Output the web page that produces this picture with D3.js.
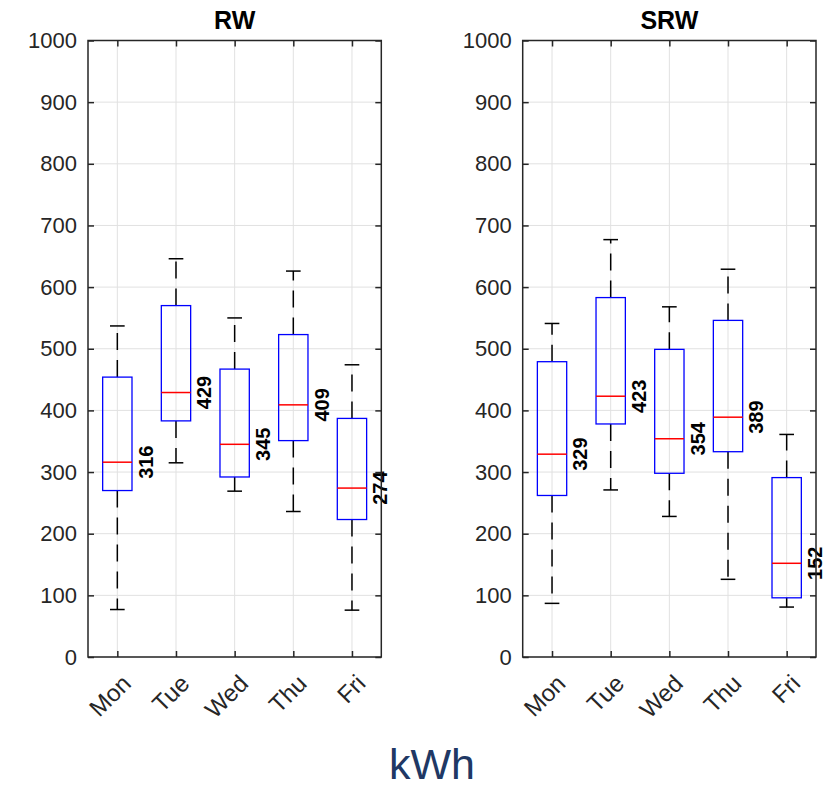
<!DOCTYPE html>
<html>
<head>
<meta charset="utf-8">
<script src="https://cdn.jsdelivr.net/npm/d3@7/dist/d3.min.js"></script>
<style>
  html, body { margin: 0; padding: 0; background: #fff; }
  svg { display: block; }
</style>
</head>
<body>
<svg id="chart" width="833" height="789"></svg>
<script>
// ---- Data ----
const days = ["Mon", "Tue", "Wed", "Thu", "Fri"];
const yTicks = [0, 100, 200, 300, 400, 500, 600, 700, 800, 900, 1000];
const panelTitles = ["RW", "SRW"];

// RW
const rwLowerWhisker = [77, 315, 269, 236, 76];
const rwQ1           = [270, 383, 292, 351, 223];
const rwMedian       = [316, 429, 345, 409, 274];
const rwQ3           = [454, 570, 467, 523, 387];
const rwUpperWhisker = [537, 646, 550, 626, 474];

// SRW
const srwLowerWhisker = [87, 271, 228, 126, 81];
const srwQ1           = [262, 378, 298, 333, 96];
const srwMedian       = [329, 423, 354, 389, 152];
const srwQ3           = [479, 583, 499, 546, 291];
const srwUpperWhisker = [541, 677, 568, 629, 361];

const unitLabel = "kWh";

// ---- Build panel tables ----
function makeRows(lo, q1, med, q3, hi) {
  return days.map((d, i) => ({ day: d, pos: i + 1, lo: lo[i], q1: q1[i], med: med[i], q3: q3[i], hi: hi[i] }));
}
const panels = [
  { title: panelTitles[0], rows: makeRows(rwLowerWhisker, rwQ1, rwMedian, rwQ3, rwUpperWhisker), left: 88 },
  { title: panelTitles[1], rows: makeRows(srwLowerWhisker, srwQ1, srwMedian, srwQ3, srwUpperWhisker), left: 522.7 }
];

const svg = d3.select("#chart");
const axisColor = "#262626";
const font = "'Liberation Sans', Arial, Helvetica, sans-serif";
const plotW = 293.3, plotTop = 40.5, plotBottom = 657;

panels.forEach(p => {
  const x = d3.scaleLinear().domain([0.5, 5.5]).range([p.left, p.left + plotW]);
  const y = d3.scaleLinear().domain([0, 1000]).range([plotBottom, plotTop]);
  const g = svg.append("g");

  // grid
  g.selectAll(".gy").data(yTicks).enter().append("line")
    .attr("x1", x(0.5)).attr("x2", x(5.5))
    .attr("y1", d => y(d)).attr("y2", d => y(d))
    .attr("stroke", "#e1e1e1").attr("stroke-width", 1);
  g.selectAll(".gx").data(p.rows).enter().append("line")
    .attr("x1", d => x(d.pos)).attr("x2", d => x(d.pos))
    .attr("y1", y(0)).attr("y2", y(1000))
    .attr("stroke", "#e1e1e1").attr("stroke-width", 1);

  // axes (ticks inside)
  const yAxisL = d3.axisLeft(y).tickValues(yTicks).tickSize(-6).tickPadding(11).tickFormat(d3.format("d"));
  const yAxisR = d3.axisRight(y).tickValues(yTicks).tickSize(-6).tickFormat("");
  const xAxisB = d3.axisBottom(x).tickValues([1,2,3,4,5]).tickSize(-6).tickFormat("");
  const xAxisT = d3.axisTop(x).tickValues([1,2,3,4,5]).tickSize(-6).tickFormat("");

  const ga = g.append("g").attr("transform", `translate(${x(0.5)},0)`).call(yAxisL);
  g.append("g").attr("transform", `translate(${x(5.5)},0)`).call(yAxisR);
  g.append("g").attr("transform", `translate(0,${y(0)})`).call(xAxisB);
  g.append("g").attr("transform", `translate(0,${y(1000)})`).call(xAxisT);
  g.selectAll(".domain").remove();
  g.selectAll(".tick line").attr("stroke", axisColor).attr("stroke-width", 1.5);
  ga.selectAll("text").attr("fill", axisColor).style("font-family", font).style("font-size", "22px");

  // x tick labels rotated
  g.selectAll(".xl").data(p.rows).enter().append("text")
    .attr("transform", d => `translate(${x(d.pos) + 15},${y(0) + 28}) rotate(-45)`)
    .attr("text-anchor", "end")
    .attr("fill", axisColor)
    .style("font-family", font).style("font-size", "24px")
    .text(d => d.day);

  // whiskers (dashed) from box edges to caps
  const wl = g.append("g").attr("stroke", "#000").attr("stroke-width", 1.5).attr("stroke-dasharray", "17,10");
  wl.selectAll(".wu").data(p.rows).enter().append("line")
    .attr("x1", d => x(d.pos)).attr("x2", d => x(d.pos))
    .attr("y1", d => y(d.q3)).attr("y2", d => y(d.hi));
  wl.selectAll(".wd").data(p.rows).enter().append("line")
    .attr("x1", d => x(d.pos)).attr("x2", d => x(d.pos))
    .attr("y1", d => y(d.q1)).attr("y2", d => y(d.lo));

  // caps
  const cap = 0.125;
  g.selectAll(".cu").data(p.rows).enter().append("line")
    .attr("x1", d => x(d.pos - cap)).attr("x2", d => x(d.pos + cap))
    .attr("y1", d => y(d.hi)).attr("y2", d => y(d.hi))
    .attr("stroke", "#000").attr("stroke-width", 1.5);
  g.selectAll(".cd").data(p.rows).enter().append("line")
    .attr("x1", d => x(d.pos - cap)).attr("x2", d => x(d.pos + cap))
    .attr("y1", d => y(d.lo)).attr("y2", d => y(d.lo))
    .attr("stroke", "#000").attr("stroke-width", 1.5);

  // boxes
  const bw = 0.25;
  g.selectAll(".box").data(p.rows).enter().append("rect")
    .attr("x", d => x(d.pos - bw)).attr("width", d => x(d.pos + bw) - x(d.pos - bw))
    .attr("y", d => y(d.q3)).attr("height", d => y(d.q1) - y(d.q3))
    .attr("fill", "none").attr("stroke", "#0000ff").attr("stroke-width", 1.3);

  // medians
  g.selectAll(".med").data(p.rows).enter().append("line")
    .attr("x1", d => x(d.pos - bw)).attr("x2", d => x(d.pos + bw))
    .attr("y1", d => y(d.med)).attr("y2", d => y(d.med))
    .attr("stroke", "#ff0000").attr("stroke-width", 1.5);

  // median labels
  g.selectAll(".ml").data(p.rows).enter().append("text")
    .attr("transform", d => `translate(${x(d.pos + 0.6)},${y(d.med)}) rotate(-90)`)
    .attr("text-anchor", "middle")
    .attr("fill", "#000")
    .style("font-family", font).style("font-size", "20px").style("font-weight", "bold")
    .text(d => d.med);

  // frame
  g.append("rect")
    .attr("x", x(0.5)).attr("y", y(1000))
    .attr("width", x(5.5) - x(0.5)).attr("height", y(0) - y(1000))
    .attr("fill", "none").attr("stroke", axisColor).attr("stroke-width", 1.5);

  // title
  g.append("text")
    .attr("x", (x(0.5) + x(5.5)) / 2).attr("y", 28.5)
    .attr("text-anchor", "middle").attr("fill", "#000")
    .style("font-family", font).style("font-size", "25px").style("font-weight", "bold")
    .text(p.title);
});

svg.append("text")
  .attr("x", 432).attr("y", 779)
  .attr("text-anchor", "middle").attr("fill", "#203864")
  .style("font-family", font).style("font-size", "43px")
  .text(unitLabel);
</script>
</body>
</html>
